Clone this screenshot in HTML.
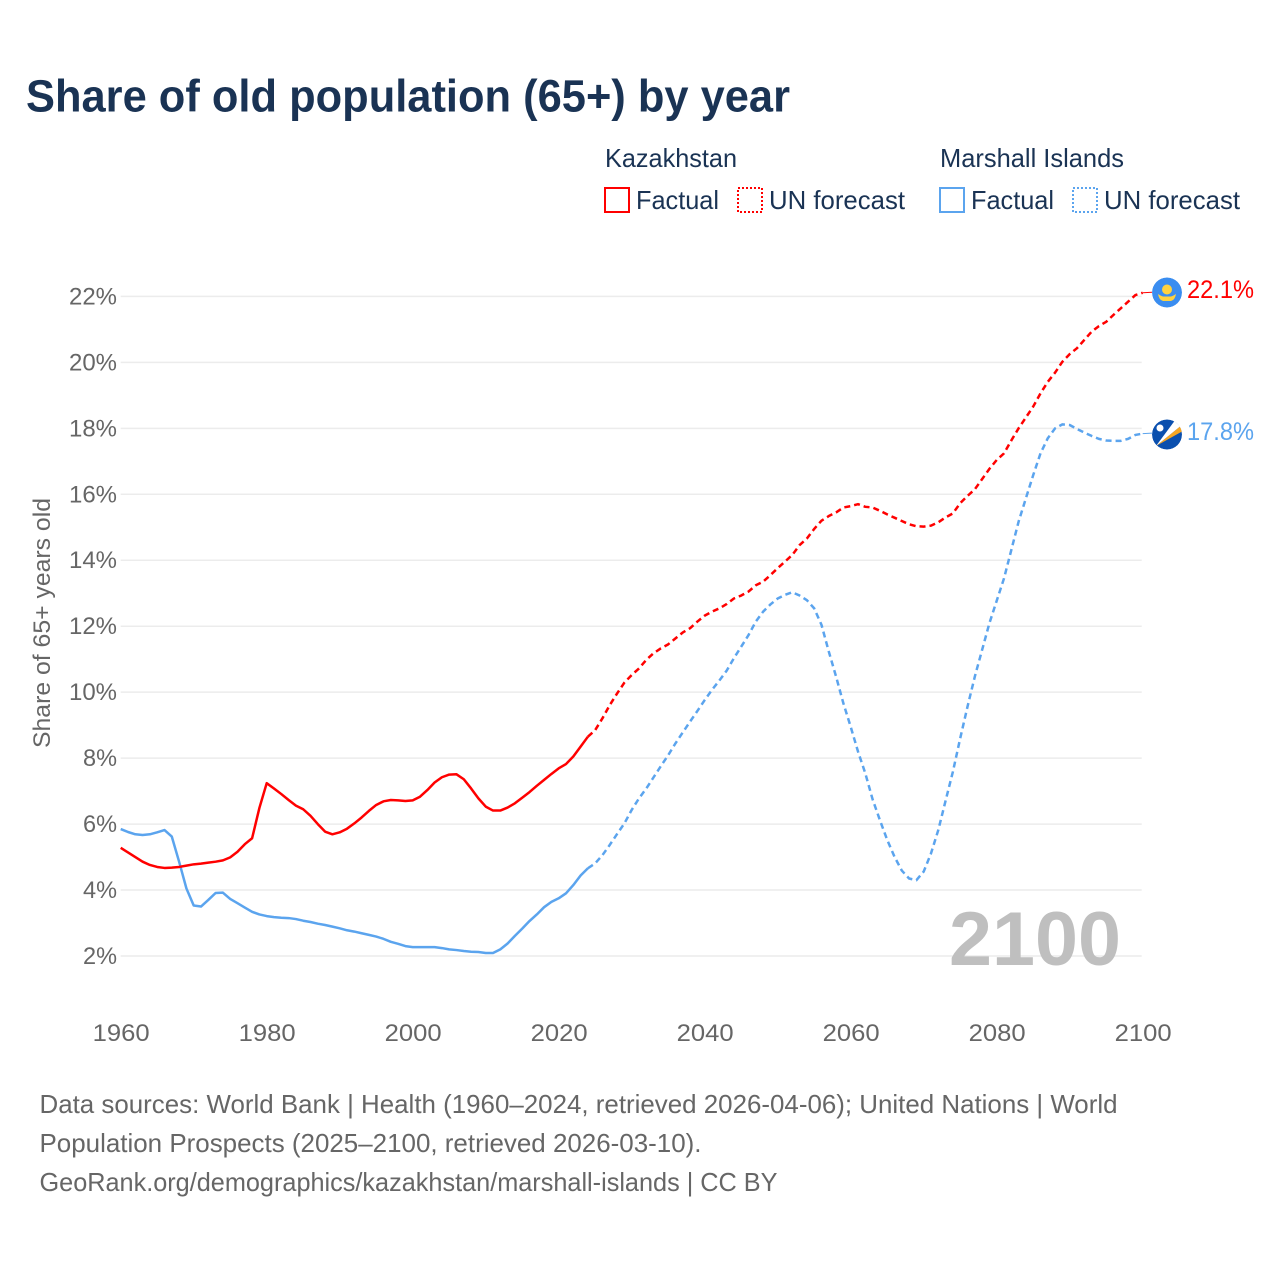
<!DOCTYPE html>
<html lang="en">
<head>
<meta charset="utf-8">
<title>Share of old population (65+) by year</title>
<style>
html,body{margin:0;padding:0;background:#fff;width:1280px;height:1280px;overflow:hidden}
svg{display:block}
text{font-family:"Liberation Sans",sans-serif}
</style>
</head>
<body>
<svg id="chart" xmlns="http://www.w3.org/2000/svg" width="1280" height="1280" viewBox="0 0 1280 1280">
  <defs>
    <clipPath id="flag-clip-kz"><circle cx="1167" cy="292.5" r="15"/></clipPath>
    <clipPath id="flag-clip-mh"><circle cx="1167" cy="434.5" r="15"/></clipPath>
  </defs>
  <rect width="1280" height="1280" fill="#fff"/>
  <text x="26" y="111.5" font-size="45" font-weight="700" fill="#1a3354" textLength="764" lengthAdjust="spacingAndGlyphs">Share of old population (65+) by year</text>

  <g font-size="26" fill="#1a3354">
    <text x="605" y="167" textLength="132" lengthAdjust="spacingAndGlyphs">Kazakhstan</text>
    <g>
      <rect x="605" y="188" width="24" height="24" fill="none" stroke="#ff0000" stroke-width="2"/>
      <text x="636" y="209" textLength="83" lengthAdjust="spacingAndGlyphs">Factual</text>
    </g>
    <g>
      <rect x="738" y="188" width="24" height="24" fill="none" stroke="#ff0000" stroke-width="2" stroke-dasharray="2 2"/>
      <text x="769" y="209" textLength="136" lengthAdjust="spacingAndGlyphs">UN forecast</text>
    </g>
    <text x="940" y="167" textLength="184" lengthAdjust="spacingAndGlyphs">Marshall Islands</text>
    <g>
      <rect x="940" y="188" width="24" height="24" fill="none" stroke="#5ba4ee" stroke-width="2"/>
      <text x="971" y="209" textLength="83" lengthAdjust="spacingAndGlyphs">Factual</text>
    </g>
    <g>
      <rect x="1073" y="188" width="24" height="24" fill="none" stroke="#5ba4ee" stroke-width="2" stroke-dasharray="2 2"/>
      <text x="1104" y="209" textLength="136" lengthAdjust="spacingAndGlyphs">UN forecast</text>
    </g>
  </g>

  <g id="grid"></g>
  <g id="y-ticks" font-size="24" fill="#666"></g>
  <g id="x-ticks" font-size="24" fill="#666"></g>
  <text transform="translate(50,623) rotate(-90)" text-anchor="middle" font-size="24" fill="#666" textLength="250" lengthAdjust="spacingAndGlyphs">Share of 65+ years old</text>

  <text x="949" y="965" font-size="76" font-weight="700" fill="#bfbfbf" textLength="172" lengthAdjust="spacingAndGlyphs">2100</text>

  <g id="series"></g>

  <g clip-path="url(#flag-clip-kz)">
    <circle cx="1167" cy="292.5" r="15" fill="#3a8df0"/>
    <circle cx="1167" cy="289.5" r="5" fill="#ffd23f"/>
    <path d="M1158 294 Q1161 296 1163 296.5 L1171 296.5 Q1173 296 1176 294 Q1175 300 1171 301 L1163 301 Q1159 300 1158 294Z" fill="#ffd23f"/>
  </g>
  <g clip-path="url(#flag-clip-mh)">
    <circle cx="1167" cy="434.5" r="15" fill="#0a4fae"/>
    <path d="M1156 446 L1183 424 L1183 431Z" fill="#f5a623"/>
    <path d="M1156 446 L1176 419 L1183 424Z" fill="#fff"/>
    <circle cx="1160" cy="428" r="3.5" fill="#fff"/>
  </g>

  <text id="label-kz" x="1187" y="298" font-size="25" fill="#ff0000" textLength="67" lengthAdjust="spacingAndGlyphs"></text>
  <text id="label-mh" x="1187" y="440" font-size="25" fill="#5ba4ee" textLength="67" lengthAdjust="spacingAndGlyphs"></text>

  <g font-size="26" fill="#666">
    <text x="39.5" y="1113" textLength="1078" lengthAdjust="spacingAndGlyphs">Data sources: World Bank | Health (1960–2024, retrieved 2026-04-06); United Nations | World</text>
    <text x="39.5" y="1152" textLength="662" lengthAdjust="spacingAndGlyphs">Population Prospects (2025–2100, retrieved 2026-03-10).</text>
    <text x="39.5" y="1191" textLength="738" lengthAdjust="spacingAndGlyphs">GeoRank.org/demographics/kazakhstan/marshall-islands | CC BY</text>
  </g>
</svg>
<script>
const yTickValues = [2, 4, 6, 8, 10, 12, 14, 16, 18, 20, 22];
const xTickYears = [1960, 1980, 2000, 2020, 2040, 2060, 2080, 2100];
const factualStartYear = 1960;
const forecastStartYear = 2025;
const kazakhstanFactual = [5.28,5.14,5.0,4.86,4.76,4.7,4.67,4.68,4.7,4.74,4.78,4.8,4.83,4.86,4.9,4.99,5.16,5.39,5.57,6.49,7.24,7.08,6.91,6.73,6.56,6.45,6.25,6.0,5.77,5.69,5.75,5.86,6.02,6.2,6.4,6.58,6.69,6.73,6.72,6.7,6.72,6.83,7.03,7.26,7.42,7.5,7.51,7.36,7.08,6.78,6.53,6.41,6.41,6.5,6.63,6.8,6.97,7.16,7.34,7.52,7.69,7.82,8.05,8.35,8.65];
const kazakhstanForecast = [8.85,9.21,9.61,9.96,10.29,10.52,10.72,10.98,11.18,11.33,11.45,11.63,11.81,11.94,12.14,12.32,12.44,12.54,12.67,12.84,12.93,13.05,13.24,13.35,13.55,13.76,13.96,14.16,14.46,14.66,14.95,15.2,15.34,15.45,15.6,15.64,15.7,15.62,15.6,15.5,15.39,15.29,15.19,15.09,15.03,15.02,15.05,15.15,15.3,15.42,15.73,15.95,16.15,16.46,16.77,17.04,17.24,17.63,18.0,18.33,18.66,19.06,19.41,19.69,20.02,20.25,20.43,20.68,20.93,21.1,21.23,21.44,21.64,21.84,22.04,22.11];
const marshallFactual = [5.85,5.76,5.69,5.67,5.69,5.75,5.82,5.62,4.86,4.05,3.53,3.5,3.7,3.91,3.92,3.73,3.6,3.47,3.34,3.26,3.21,3.18,3.16,3.15,3.12,3.07,3.03,2.98,2.94,2.89,2.84,2.78,2.74,2.69,2.64,2.59,2.52,2.43,2.37,2.3,2.27,2.27,2.27,2.27,2.24,2.2,2.18,2.15,2.13,2.12,2.09,2.09,2.2,2.38,2.61,2.83,3.06,3.26,3.48,3.64,3.75,3.9,4.15,4.44,4.66];
const marshallForecast = [4.81,5.06,5.37,5.7,6.02,6.43,6.78,7.08,7.42,7.76,8.09,8.45,8.78,9.11,9.43,9.76,10.07,10.35,10.65,11.03,11.38,11.73,12.14,12.44,12.66,12.84,12.95,13.03,12.93,12.79,12.54,12.04,11.23,10.47,9.66,8.95,8.2,7.54,6.75,6.12,5.52,5.01,4.59,4.35,4.3,4.56,5.11,5.82,6.71,7.59,8.6,9.56,10.47,11.28,12.09,12.77,13.45,14.31,15.17,15.88,16.58,17.24,17.7,18.0,18.12,18.1,17.98,17.87,17.77,17.68,17.63,17.62,17.62,17.68,17.8,17.84];

const NS = 'http://www.w3.org/2000/svg';
function xScale(year) { return 120.7 + (year - 1960) * 7.3; }
function yScale(v) { return 956 - (v - 2) * 32.98; }

const grid = document.getElementById('grid');
const yTicks = document.getElementById('y-ticks');
yTickValues.forEach(function (v) {
  const line = document.createElementNS(NS, 'line');
  
  
  line.setAttribute('x1', 120.7);
  line.setAttribute('x2', 1141.7);
  line.setAttribute('y1', yScale(v));
  line.setAttribute('y2', yScale(v));
  line.setAttribute('stroke', '#ececec');
  line.setAttribute('stroke-width', '1.5');
  grid.appendChild(line);

  const t = document.createElementNS(NS, 'text');
  
  
  t.setAttribute('x', 117);
  t.setAttribute('y', yScale(v) + 8);
  t.setAttribute('text-anchor', 'end');
  t.setAttribute('textLength', v < 10 ? 34 : 48);
  t.setAttribute('lengthAdjust', 'spacingAndGlyphs');
  t.textContent = v + '%';
  yTicks.appendChild(t);
});

const xTicks = document.getElementById('x-ticks');
xTickYears.forEach(function (year) {
  const t = document.createElementNS(NS, 'text');
  
  
  t.setAttribute('x', xScale(year) + 0.5);
  t.setAttribute('y', 1041);
  t.setAttribute('text-anchor', 'middle');
  t.setAttribute('textLength', 57);
  t.setAttribute('lengthAdjust', 'spacingAndGlyphs');
  t.textContent = year;
  xTicks.appendChild(t);
});

function pointsFor(values, startYear) {
  return values.map(function (v, i) {
    return xScale(startYear + i).toFixed(2) + ',' + yScale(v).toFixed(2);
  });
}

const seriesGroup = document.getElementById('series');
function drawLine(name, pts, color, dash) {
  const p = document.createElementNS(NS, 'polyline');
  
  
  p.setAttribute('points', pts.join(' '));
  p.setAttribute('fill', 'none');
  p.setAttribute('stroke', color);
  p.setAttribute('stroke-width', '2.5');
  p.setAttribute('stroke-linejoin', 'round');
  if (dash) p.setAttribute('stroke-dasharray', dash);
  seriesGroup.appendChild(p);
}
function drawLeader(name, value, color) {
  const l = document.createElementNS(NS, 'line');
  
  
  l.setAttribute('x1', xScale(2100));
  l.setAttribute('x2', 1152);
  l.setAttribute('y1', yScale(value));
  l.setAttribute('y2', yScale(value) - 0.5);
  l.setAttribute('stroke', color);
  l.setAttribute('stroke-width', '1');
  seriesGroup.appendChild(l);
}

const RED = '#ff0000';
const BLUE = '#5ba4ee';
const kzFactualPts = pointsFor(kazakhstanFactual, factualStartYear);
const kzForecastPts = pointsFor(kazakhstanForecast, forecastStartYear);
const mhFactualPts = pointsFor(marshallFactual, factualStartYear);
const mhForecastPts = pointsFor(marshallForecast, forecastStartYear);
drawLine('line-marshall-factual', mhFactualPts, BLUE);
drawLine('line-marshall-forecast', [mhFactualPts[mhFactualPts.length - 1]].concat(mhForecastPts), BLUE, '6 4');
drawLine('line-kazakhstan-factual', kzFactualPts, RED);
drawLine('line-kazakhstan-forecast', [kzFactualPts[kzFactualPts.length - 1]].concat(kzForecastPts), RED, '6 4');
const kzLast = kazakhstanForecast[kazakhstanForecast.length - 1];
const mhLast = marshallForecast[marshallForecast.length - 1];
drawLeader('leader-kazakhstan', kzLast, RED);
drawLeader('leader-marshall-islands', mhLast, BLUE);
document.getElementById('label-kz').textContent = kzLast.toFixed(1) + '%';
document.getElementById('label-mh').textContent = (Math.floor(mhLast * 10) / 10).toFixed(1) + '%';
</script>
</body>
</html>
